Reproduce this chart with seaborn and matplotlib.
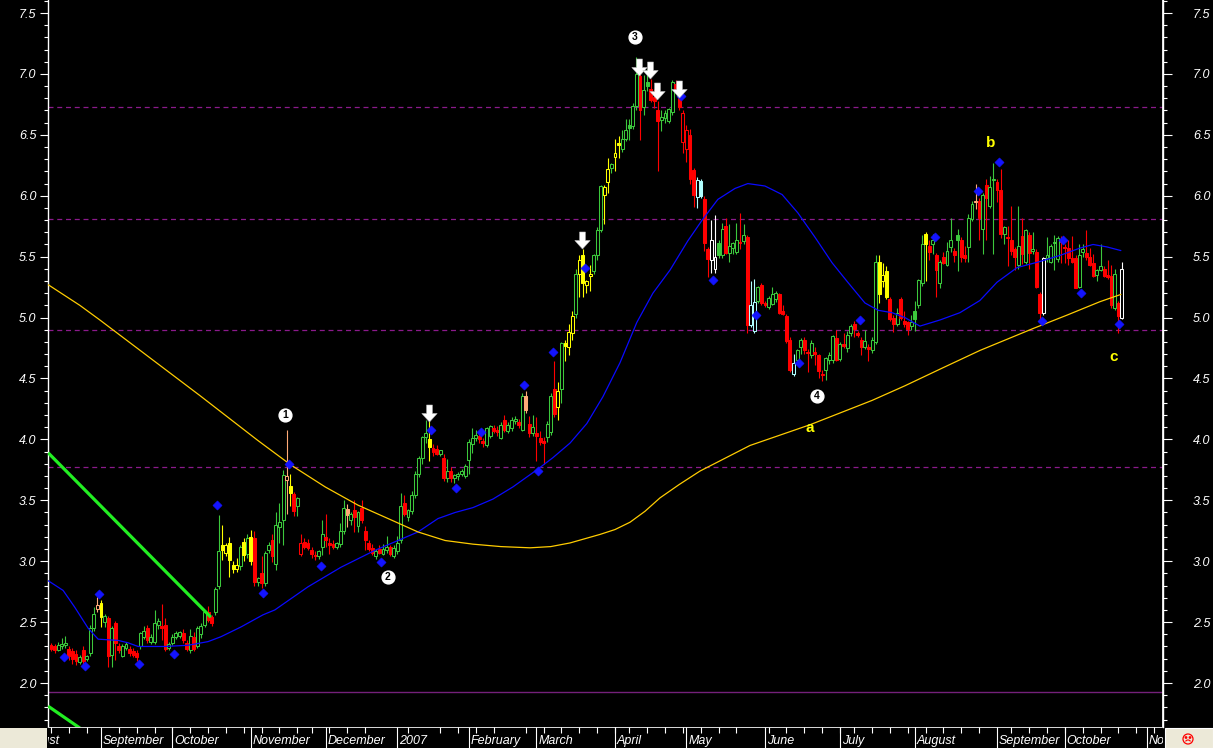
import numpy as np
import pandas as pd
import matplotlib
matplotlib.use("Agg")
import matplotlib.pyplot as plt
from matplotlib.patches import Rectangle, Ellipse, Arc
from matplotlib.path import Path
from matplotlib.ticker import MultipleLocator, FormatStrFormatter
import seaborn as sns

# trading calendar
market_holidays = ["2006-09-04", "2006-11-23", "2006-12-25", "2007-01-01", "2007-01-02",
                   "2007-01-15", "2007-02-19", "2007-04-06", "2007-05-28", "2007-07-04",
                   "2007-09-03"]
first_bar = "2006-08-14"

# daily candles (open, high, low, close), one list per month
aug06 = [(2.31, 2.33, 2.26, 2.28), (2.30, 2.32, 2.25, 2.27), (2.27, 2.34, 2.26, 2.31),
         (2.30, 2.37, 2.28, 2.32), (2.31, 2.39, 2.29, 2.33), (2.28, 2.30, 2.19, 2.22),
         (2.26, 2.29, 2.16, 2.20), (2.24, 2.27, 2.15, 2.18), (2.17, 2.23, 2.16, 2.21),
         (2.27, 2.30, 2.14, 2.18), (2.20, 2.23, 2.18, 2.22), (2.25, 2.48, 2.22, 2.45),
         (2.45, 2.62, 2.43, 2.57), (2.61, 2.71, 2.58, 2.64)]
sep06 = [(2.66, 2.68, 2.46, 2.54), (2.50, 2.57, 2.46, 2.55), (2.53, 2.55, 2.13, 2.22),
         (2.23, 2.47, 2.13, 2.45), (2.49, 2.51, 2.19, 2.33), (2.30, 2.33, 2.25, 2.27),
         (2.22, 2.32, 2.21, 2.30), (2.29, 2.34, 2.27, 2.32), (2.28, 2.30, 2.22, 2.25),
         (2.26, 2.29, 2.21, 2.23), (2.25, 2.27, 2.18, 2.21), (2.30, 2.42, 2.28, 2.41),
         (2.38, 2.47, 2.36, 2.43), (2.45, 2.48, 2.33, 2.35), (2.34, 2.40, 2.32, 2.38),
         (2.34, 2.60, 2.32, 2.49), (2.48, 2.53, 2.44, 2.51), (2.47, 2.65, 2.35, 2.45),
         (2.48, 2.53, 2.26, 2.28), (2.29, 2.34, 2.27, 2.32)]
oct06 = [(2.33, 2.40, 2.31, 2.38), (2.38, 2.43, 2.36, 2.41), (2.39, 2.43, 2.37, 2.42),
         (2.41, 2.44, 2.33, 2.35), (2.33, 2.35, 2.26, 2.28), (2.27, 2.44, 2.25, 2.39),
         (2.38, 2.42, 2.26, 2.28), (2.30, 2.47, 2.29, 2.45), (2.40, 2.49, 2.37, 2.47),
         (2.48, 2.60, 2.46, 2.58), (2.58, 2.63, 2.50, 2.52), (2.54, 2.56, 2.47, 2.49),
         (2.58, 2.79, 2.56, 2.77), (2.80, 3.38, 2.77, 3.08), (3.13, 3.30, 3.01, 3.09),
         (3.07, 3.15, 3.04, 3.13), (3.15, 3.20, 2.87, 3.01), (2.97, 3.00, 2.90, 2.94),
         (2.94, 3.03, 2.91, 2.97), (2.96, 3.13, 2.93, 3.12), (3.16, 3.19, 3.00, 3.05),
         (3.06, 3.22, 3.03, 3.19)]
nov06 = [(3.20, 3.26, 2.97, 3.00), (3.19, 3.25, 2.80, 2.83), (2.83, 2.87, 2.80, 2.86),
         (2.90, 3.04, 2.78, 2.82), (2.82, 3.08, 2.80, 3.07), (3.09, 3.16, 3.07, 3.13),
         (3.17, 3.22, 2.99, 3.04), (2.98, 3.40, 2.93, 3.30), (3.28, 3.48, 3.15, 3.32),
         (3.34, 3.75, 3.13, 3.71), (3.67, 4.08, 3.39, 3.70), (3.62, 3.72, 3.45, 3.56),
         (3.55, 3.57, 3.37, 3.41), (3.45, 3.53, 3.37, 3.52), (3.06, 3.22, 3.04, 3.15),
         (3.16, 3.19, 3.10, 3.12), (3.15, 3.18, 3.09, 3.11), (3.09, 3.12, 3.03, 3.06),
         (3.05, 3.08, 3.01, 3.04), (3.04, 3.09, 3.02, 3.08), (3.12, 3.34, 3.05, 3.22)]
dec06 = [(3.20, 3.39, 3.12, 3.17), (3.15, 3.19, 3.06, 3.13), (3.14, 3.17, 3.10, 3.12),
         (3.12, 3.16, 3.10, 3.15), (3.14, 3.31, 3.12, 3.25), (3.25, 3.50, 3.22, 3.44),
         (3.43, 3.47, 3.28, 3.38), (3.34, 3.40, 3.30, 3.39), (3.42, 3.50, 3.24, 3.36),
         (3.29, 3.41, 3.24, 3.40), (3.44, 3.50, 3.31, 3.34), (3.25, 3.29, 3.09, 3.17),
         (3.15, 3.17, 3.08, 3.10), (3.11, 3.14, 3.05, 3.07), (3.04, 3.10, 3.02, 3.08),
         (3.10, 3.13, 3.06, 3.07), (3.06, 3.14, 3.05, 3.10), (3.09, 3.21, 3.07, 3.12),
         (3.12, 3.13, 3.04, 3.06), (3.04, 3.13, 3.03, 3.11)]
jan07 = [(3.08, 3.21, 3.06, 3.15), (3.17, 3.56, 3.15, 3.45), (3.48, 3.54, 3.37, 3.39),
         (3.36, 3.43, 3.33, 3.42), (3.41, 3.58, 3.39, 3.54), (3.54, 3.74, 3.52, 3.72),
         (3.72, 3.86, 3.69, 3.85), (3.85, 4.03, 3.80, 4.02), (4.02, 4.16, 3.97, 4.05),
         (4.00, 4.15, 3.82, 3.94), (3.93, 3.96, 3.86, 3.90), (3.92, 3.95, 3.87, 3.88),
         (3.88, 3.91, 3.86, 3.91), (3.85, 3.88, 3.66, 3.68), (3.68, 3.84, 3.65, 3.74),
         (3.74, 3.77, 3.65, 3.68), (3.68, 3.72, 3.64, 3.71), (3.70, 3.73, 3.67, 3.72),
         (3.72, 3.76, 3.70, 3.74), (3.70, 3.80, 3.68, 3.78)]
feb07 = [(3.83, 4.00, 3.72, 3.98), (3.96, 4.09, 3.89, 4.01), (4.01, 4.08, 3.99, 4.04),
         (4.03, 4.06, 3.97, 4.00), (3.99, 4.01, 3.94, 3.97), (3.95, 4.10, 3.94, 4.09),
         (4.03, 4.12, 4.01, 4.11), (4.09, 4.12, 4.05, 4.07), (4.08, 4.11, 4.03, 4.06),
         (4.01, 4.14, 4.00, 4.12), (4.16, 4.20, 4.06, 4.08), (4.07, 4.14, 4.05, 4.12),
         (4.09, 4.18, 4.07, 4.16), (4.15, 4.19, 4.13, 4.17), (4.14, 4.17, 4.09, 4.12),
         (4.08, 4.38, 4.07, 4.36), (4.36, 4.40, 4.22, 4.24), (4.13, 4.19, 4.02, 4.05),
         (4.05, 4.20, 4.03, 4.10)]
mar07 = [(4.05, 4.18, 3.82, 4.03), (4.01, 4.07, 3.95, 3.98), (3.99, 4.02, 3.80, 3.97),
         (4.02, 4.15, 3.98, 4.13), (4.06, 4.38, 4.04, 4.36), (4.41, 4.64, 4.18, 4.21),
         (4.27, 4.47, 4.16, 4.40), (4.41, 4.80, 4.30, 4.79), (4.79, 4.82, 4.64, 4.77),
         (4.76, 4.95, 4.69, 4.88), (4.87, 5.05, 4.82, 5.01), (5.03, 5.40, 5.00, 5.36),
         (5.36, 5.51, 5.17, 5.47), (5.51, 5.56, 5.17, 5.28), (5.27, 5.31, 5.20, 5.30),
         (5.34, 5.43, 5.22, 5.36), (5.38, 5.52, 5.36, 5.51), (5.51, 5.74, 5.47, 5.72),
         (5.72, 6.09, 5.70, 6.08), (6.01, 6.09, 5.77, 6.07), (6.11, 6.31, 6.02, 6.22),
         (6.23, 6.27, 6.19, 6.26)]
apr07 = [(6.32, 6.47, 6.20, 6.35), (6.43, 6.49, 6.31, 6.42), (6.38, 6.54, 6.36, 6.47),
         (6.47, 6.63, 6.45, 6.54), (6.58, 6.63, 6.46, 6.56), (6.57, 6.76, 6.55, 6.74),
         (6.74, 7.14, 6.70, 7.00), (6.98, 7.00, 6.46, 6.70), (6.73, 6.99, 6.66, 6.87),
         (6.93, 7.04, 6.86, 6.90), (6.88, 6.96, 6.77, 6.79), (6.81, 6.88, 6.72, 6.78),
         (6.70, 6.78, 6.20, 6.61), (6.62, 6.70, 6.53, 6.65), (6.64, 6.70, 6.60, 6.68),
         (6.61, 6.72, 6.60, 6.71), (6.69, 6.95, 6.66, 6.93), (6.92, 6.95, 6.86, 6.88),
         (6.83, 6.86, 6.70, 6.73), (6.44, 6.70, 6.35, 6.68)]
may07 = [(6.38, 6.58, 6.28, 6.54), (6.50, 6.55, 6.10, 6.14), (6.21, 6.23, 5.91, 6.01),
         (5.99, 6.15, 5.90, 6.13), (6.12, 6.14, 5.98, 6.00), (5.97, 6.00, 5.55, 5.61),
         (5.56, 5.58, 5.33, 5.48), (5.47, 5.80, 5.37, 5.64), (5.40, 5.84, 5.37, 5.50),
         (5.61, 5.64, 5.49, 5.51), (5.51, 5.78, 5.49, 5.73), (5.75, 5.82, 5.52, 5.53),
         (5.53, 5.77, 5.46, 5.59), (5.57, 5.62, 5.52, 5.61), (5.54, 5.78, 5.52, 5.64),
         (5.62, 5.86, 5.56, 5.61), (5.63, 5.77, 5.60, 5.68), (5.66, 5.68, 4.87, 4.94),
         (4.94, 5.30, 4.92, 5.10), (4.89, 5.32, 4.87, 5.13), (5.14, 5.26, 5.12, 5.25),
         (5.27, 5.28, 5.10, 5.12)]
jun07 = [(5.12, 5.14, 5.09, 5.10), (5.09, 5.18, 5.07, 5.16), (5.11, 5.25, 5.10, 5.19),
         (5.15, 5.22, 5.13, 5.20), (5.19, 5.20, 5.03, 5.04), (5.05, 5.10, 5.02, 5.03),
         (5.01, 5.03, 4.79, 4.81), (4.82, 4.84, 4.55, 4.57), (4.54, 4.70, 4.52, 4.63),
         (4.65, 4.74, 4.62, 4.73), (4.76, 4.83, 4.70, 4.82), (4.82, 4.84, 4.70, 4.73),
         (4.72, 4.74, 4.55, 4.71), (4.69, 4.82, 4.67, 4.79), (4.72, 4.76, 4.61, 4.70),
         (4.69, 4.70, 4.50, 4.56), (4.54, 4.57, 4.48, 4.53), (4.57, 4.68, 4.49, 4.67),
         (4.65, 4.72, 4.62, 4.69), (4.65, 4.86, 4.63, 4.85), (4.83, 4.90, 4.64, 4.65)]
jul07 = [(4.66, 4.80, 4.64, 4.78), (4.78, 4.87, 4.75, 4.77), (4.75, 4.89, 4.72, 4.86),
         (4.87, 4.95, 4.85, 4.93), (4.95, 4.97, 4.84, 4.91), (4.87, 4.89, 4.84, 4.86),
         (4.82, 4.84, 4.69, 4.76), (4.76, 4.90, 4.74, 4.81), (4.76, 4.78, 4.64, 4.74),
         (4.73, 4.84, 4.71, 4.82), (4.80, 5.51, 4.78, 5.46), (5.46, 5.51, 5.12, 5.19),
         (5.30, 5.45, 5.25, 5.35), (5.38, 5.42, 5.15, 5.17), (5.15, 5.17, 4.97, 4.99),
         (5.00, 5.02, 4.88, 4.95), (4.95, 5.08, 4.93, 5.04), (5.15, 5.17, 4.98, 5.00),
         (4.97, 5.05, 4.92, 4.95), (4.96, 4.97, 4.86, 4.91), (4.93, 5.02, 4.90, 4.96)]
aug07 = [(5.05, 5.14, 4.89, 4.99), (5.10, 5.32, 5.08, 5.31), (5.28, 5.68, 5.26, 5.60),
         (5.69, 5.70, 5.30, 5.60), (5.59, 5.64, 5.47, 5.54), (5.60, 5.69, 5.52, 5.64),
         (5.51, 5.53, 5.17, 5.39), (5.28, 5.47, 5.24, 5.46), (5.50, 5.54, 5.44, 5.45),
         (5.43, 5.62, 5.42, 5.55), (5.58, 5.82, 5.54, 5.64), (5.55, 5.57, 5.46, 5.51),
         (5.68, 5.73, 5.38, 5.64), (5.64, 5.66, 5.46, 5.50), (5.51, 5.59, 5.46, 5.49),
         (5.58, 5.85, 5.46, 5.82), (5.81, 5.96, 5.79, 5.93), (5.95, 6.10, 5.89, 5.96),
         (5.96, 5.98, 5.64, 5.82), (5.73, 6.02, 5.52, 6.01), (6.09, 6.14, 5.64, 5.98),
         (5.92, 6.16, 5.90, 6.07), (6.13, 6.27, 5.52, 6.14)]
sep07 = [(6.11, 6.14, 5.95, 6.05), (6.05, 6.22, 5.65, 5.69), (5.69, 5.75, 5.60, 5.74),
         (5.66, 5.75, 5.42, 5.65), (5.64, 5.92, 5.51, 5.55), (5.56, 5.58, 5.39, 5.50),
         (5.43, 5.92, 5.40, 5.59), (5.67, 5.82, 5.44, 5.52), (5.46, 5.73, 5.44, 5.72),
         (5.68, 5.70, 5.40, 5.53), (5.55, 5.70, 5.52, 5.56), (5.54, 5.56, 5.24, 5.25),
         (5.19, 5.21, 4.98, 5.04), (5.04, 5.50, 5.02, 5.49), (5.49, 5.66, 5.46, 5.51),
         (5.46, 5.60, 5.45, 5.59), (5.61, 5.68, 5.39, 5.62), (5.48, 5.67, 5.46, 5.65),
         (5.64, 5.67, 5.45, 5.62)]
oct07 = [(5.58, 5.60, 5.45, 5.57), (5.57, 5.64, 5.43, 5.49), (5.49, 5.67, 5.45, 5.46),
         (5.49, 5.51, 5.24, 5.24), (5.25, 5.60, 5.24, 5.51), (5.54, 5.60, 5.50, 5.56),
         (5.53, 5.72, 5.47, 5.50), (5.50, 5.57, 5.42, 5.43), (5.45, 5.52, 5.33, 5.34),
         (5.35, 5.40, 5.30, 5.39), (5.39, 5.60, 5.38, 5.42), (5.40, 5.42, 5.33, 5.34),
         (5.35, 5.47, 5.32, 5.33), (5.34, 5.43, 5.08, 5.10), (5.08, 5.40, 5.06, 5.36),
         (5.12, 5.14, 4.87, 5.01), (5.00, 5.46, 4.99, 5.40)]

# bars flagged by the charting package with other colours
yellow_bars = [14, 48, 49, 50, 51, 52, 54, 56, 67, 106, 142, 144, 145, 146, 148, 149,
               150, 151, 155, 156, 158, 159, 232, 233, 234, 245]
salmon_bars = [13, 66, 83, 133, 259]
cyan_bars = [181, 182, 196, 197, 208]
white_bars = [185, 186, 278, 300]

# moving averages (bar index, price)
ma_fast_x = [-0.8, 3.4, 6.7, 10.4, 13.2, 18.8, 21.6, 24.4, 31.9, 38.4, 44.0, 47.6, 53.2,
             59.4, 62.7, 72.0, 81.2, 90.8, 97.2, 102.8, 108.4, 113.2, 118.2, 123.8, 129.4,
             136.1, 140.6, 145.4, 150.1, 154.6, 159.4, 164.1, 168.6, 173.4, 178.4, 182.4,
             186.8, 191.6, 195.2, 200.0, 204.8, 209.2, 214.0, 218.8, 223.2, 228.0, 231.7,
             235.6, 239.2, 243.4, 249.0, 254.6, 260.2, 265.0, 270.6, 277.0, 282.6, 288.2,
             291.9, 295.8, 299.7]
ma_fast = [2.84, 2.76, 2.62, 2.45, 2.36, 2.35, 2.33, 2.30, 2.30, 2.31, 2.34, 2.38, 2.46,
           2.56, 2.60, 2.79, 2.95, 3.09, 3.17, 3.24, 3.35, 3.40, 3.44, 3.51, 3.61,
           3.75, 3.85, 3.97, 4.13, 4.35, 4.63, 4.96, 5.20, 5.39, 5.63, 5.80,
           5.97, 6.06, 6.10, 6.08, 6.01, 5.86, 5.66, 5.45, 5.29, 5.12, 5.06,
           5.04, 5.00, 4.93, 4.98, 5.04, 5.14, 5.29, 5.41, 5.46, 5.51, 5.57,
           5.60, 5.58, 5.55]
ma_slow_x = [-0.8, 8.1, 13.7, 27.7, 41.7, 58.0, 67.2, 76.8, 86.0, 95.2, 102.8, 110.4, 118.2,
             126.0, 134.2, 140.0, 145.4, 153.8, 158.0, 162.2, 166.4, 170.6, 176.0, 181.8,
             195.8, 212.6, 230.0, 239.2, 250.0, 260.2, 275.1, 284.6, 293.8, 299.7]
ma_slow = [5.27, 5.10, 4.98, 4.67, 4.36, 3.99, 3.79, 3.61, 3.46, 3.34, 3.24, 3.17, 3.14,
           3.12, 3.11, 3.12, 3.15, 3.22, 3.26, 3.32, 3.41, 3.52, 3.63, 3.74,
           3.95, 4.12, 4.32, 4.44, 4.59, 4.73, 4.91, 5.02, 5.13, 5.19]

# trend lines and horizontal levels
trend_upper = ([-0.8, 44.8], [3.89, 2.54])
trend_lower = ([-0.8, 8.1], [1.81, 1.63])
dashed_levels = [6.73, 5.81, 4.90, 3.77]
solid_level = 1.93

# markers
pivot_x = [3.6, 9.4, 13.4, 24.6, 34.5, 46.5, 59.5, 66.6, 75.5, 92.4, 106.4, 113.5, 120.4,
           132.5, 136.4, 140.5, 149.6, 176.4, 185.4, 197.4, 209.5, 226.5, 247.6, 259.6,
           265.5, 277.6, 283.5, 288.4, 299.3]
pivot_y = [2.21, 2.14, 2.73, 2.16, 2.24, 3.46, 2.74, 3.80, 2.96, 2.99, 4.08, 3.60, 4.06,
           4.45, 3.74, 4.72, 5.41, 6.82, 5.31, 5.02, 4.63, 4.98, 5.66, 6.04,
           6.28, 4.97, 5.64, 5.20, 4.95]
arrow_x = [105.8, 148.7, 164.7, 167.8, 169.7, 175.8]
arrow_y = [4.22, 5.64, 7.06, 7.03, 6.86, 6.88]
wave_nums = ["1", "2", "3", "4"]
wave_x = [65.5, 94.4, 163.6, 214.6]
wave_y = [4.20, 2.87, 7.30, 4.36]
abc_labels = ["a", "b", "c"]
abc_x = [212.6, 263.3, 297.8]
abc_y = [4.09, 6.43, 4.68]

GREEN, RED, YELLOW = "#3cc83c", "#ff0000", "#ffff00"
SALMON, CYAN, WHITE = "#ffaa77", "#b0ffff", "#ffffff"

sns.set_theme(style="dark", rc={"axes.facecolor": "black", "figure.facecolor": "black",
                                "axes.grid": False})
plt.rcParams["font.family"] = ["Liberation Sans", "DejaVu Sans"]

df = pd.DataFrame(aug06 + sep06 + oct06 + nov06 + dec06 + jan07 + feb07 + mar07 + apr07
                  + may07 + jun07 + jul07 + aug07 + sep07 + oct07,
                  columns=["open", "high", "low", "close"])
df["x"] = np.arange(len(df))
prev = df["close"].shift(1).fillna(df["open"])
colour = np.where(df["close"] >= prev, GREEN, RED).astype(object)
for idx_list, c in [(yellow_bars, YELLOW), (salmon_bars, SALMON),
                    (cyan_bars, CYAN), (white_bars, WHITE)]:
    colour[idx_list] = c
hollow = (df["close"] > df["open"]).values

# calendar -> bar positions
days = pd.bdate_range("2006-08-01", "2007-11-30", freq="C", holidays=market_holidays)
pos = np.arange(len(days)) - days.get_loc(pd.Timestamp(first_bar))
cal = pd.DataFrame({"pos": pos}, index=days)
month_first = cal.groupby([days.year, days.month])["pos"].first()
mondays = cal.loc[days.weekday == 0, "pos"].values

W, H = 1213, 748
fig = plt.figure(figsize=(W / 100, H / 100), dpi=100)
ax = fig.add_axes([48 / W, 21 / H, 1115 / W, 727 / H])
xmin, xmax = -0.84, 311.5
ax.set_xlim(xmin, xmax)
ax.set_ylim(1.639, 7.607)

for lvl in dashed_levels:
    ax.axhline(lvl, color="#8b1a8b", lw=0.9, ls=(0, (4, 3)), zorder=1)
ax.axhline(solid_level, color="#74207a", lw=1.0, zorder=1)

# candles
ax.vlines(df["x"], df["low"], df["high"], colors=list(colour), lw=0.8, zorder=2)
body_h = np.maximum((df["close"] - df["open"]).abs(), 0.008)
ax.bar(df["x"], body_h, bottom=np.minimum(df["open"], df["close"]), width=0.82,
       color=[("black" if h else c) for h, c in zip(hollow, colour)],
       edgecolor=list(colour), linewidth=0.75, zorder=3)

sns.lineplot(x=ma_fast_x, y=ma_fast, ax=ax, color="#0a0aff", lw=0.9, estimator=None,
             sort=False, zorder=4)
sns.lineplot(x=ma_slow_x, y=ma_slow, ax=ax, color="#ffcc00", lw=0.9, estimator=None,
             sort=False, zorder=4)
for tx, ty in (trend_upper, trend_lower):
    ax.plot(tx, ty, color="#22ee22", lw=2.3, zorder=4, solid_capstyle="butt")

sns.scatterplot(x=pivot_x, y=pivot_y, ax=ax, marker="D", s=22, color="#1414ff",
                edgecolor="#1414ff", zorder=5, legend=False)

arrow = Path([(-0.17, 0.5), (0.17, 0.5), (0.17, 0.0), (0.45, 0.0), (0.0, -0.5),
              (-0.45, 0.0), (-0.17, 0.0), (-0.17, 0.5)],
             [Path.MOVETO] + [Path.LINETO] * 6 + [Path.CLOSEPOLY])
ax.scatter(arrow_x, arrow_y, marker=arrow, s=150, color="white", edgecolor="#bbbbbb",
           linewidth=0.4, zorder=6)

ax.scatter(wave_x, wave_y, s=85, color="white", zorder=6)
for t, x, y in zip(wave_nums, wave_x, wave_y):
    ax.text(x, y, t, ha="center", va="center", fontsize=7.5, fontweight="bold",
            color="black", zorder=7)
for t, x, y in zip(abc_labels, abc_x, abc_y):
    ax.text(x, y, t, ha="center", va="center", fontsize=11, fontweight="bold",
            color=YELLOW, zorder=7)

# axes styling
for side in ["top", "bottom"]:
    ax.spines[side].set_visible(False)
for side in ["left", "right"]:
    ax.spines[side].set_color("white")
    ax.spines[side].set_linewidth(1.0)
ax.set_xticks([])
ax.yaxis.set_major_locator(MultipleLocator(0.5))
ax.yaxis.set_minor_locator(MultipleLocator(0.1))
ax.yaxis.set_major_formatter(FormatStrFormatter("%.1f"))
ax.tick_params(axis="y", which="major", direction="out", length=5.8, width=0.8,
               color="white", labelcolor="white", labelsize=9, pad=2.5)
ax.tick_params(axis="y", which="minor", direction="out", length=2.9, width=0.8,
               color="white", left=True)
ax2 = ax.twinx()
ax2.set_ylim(ax.get_ylim())
ax2.yaxis.set_major_locator(MultipleLocator(0.5))
ax2.yaxis.set_minor_locator(MultipleLocator(0.1))
ax2.yaxis.set_major_formatter(FormatStrFormatter("%.1f"))
ax2.tick_params(axis="y", which="major", direction="out", length=6.5, width=0.8,
                color="white", labelcolor="white", labelsize=9, pad=15)
ax2.tick_params(axis="y", which="minor", direction="out", length=2.9, width=0.8,
                color="white", right=True)
for side in ["top", "bottom", "left"]:
    ax2.spines[side].set_visible(False)
ax2.spines["right"].set_color("white")
for lab in ax.get_yticklabels() + ax2.get_yticklabels():
    lab.set_fontstyle("italic")

# date band
band = fig.add_axes([48 / W, 0, 1115 / W, 21 / H])
band.set_facecolor("black")
band.set_xlim(xmin, xmax)
band.set_ylim(0, 1)
for sp in band.spines.values():
    sp.set_visible(False)
band.set_xticks([])
band.set_yticks([])
band.axhline(0.985, color="white", lw=1.2)
band.vlines(month_first.values, 0, 1, colors="white", lw=0.8)
band.vlines(mondays, 0.72, 1, colors="white", lw=0.8)
for (yr, mo), p in month_first.items():
    label = str(yr) if mo == 1 else pd.Timestamp(yr, mo, 1).strftime("%B")
    if p > xmax - 4:
        label = label[:2]  # the last month name is cut by the right edge
    band.text(p + 0.55, 0.33, label, color="white", fontstyle="italic", fontsize=9,
              ha="left", va="center", clip_on=True)

fig.add_artist(Rectangle((0, 0), 47 / W, 20 / H, transform=fig.transFigure,
                         facecolor="#ece9d8", edgecolor="none"))
fig.add_artist(Rectangle((1165 / W, 0), 48 / W, 20 / H, transform=fig.transFigure,
                         facecolor="#ece9d8", edgecolor="white", lw=0.8))
# small status icon in the corner box
cx, cy = 1188 / W, 9 / H
fig.add_artist(Ellipse((cx, cy), 10 / W, 10 / H, transform=fig.transFigure,
                       facecolor="none", edgecolor="red", lw=0.9))
fig.add_artist(Arc((cx, cy - 3 / H), 5 / W, 4 / H, theta1=20, theta2=160,
                   transform=fig.transFigure, edgecolor="red", lw=0.8))
for dx in (-2, 2):
    fig.add_artist(Ellipse((cx + dx / W, cy + 1.5 / H), 1.4 / W, 1.4 / H,
                           transform=fig.transFigure, color="red"))

fig.savefig("out.png", dpi=100, facecolor="black")
